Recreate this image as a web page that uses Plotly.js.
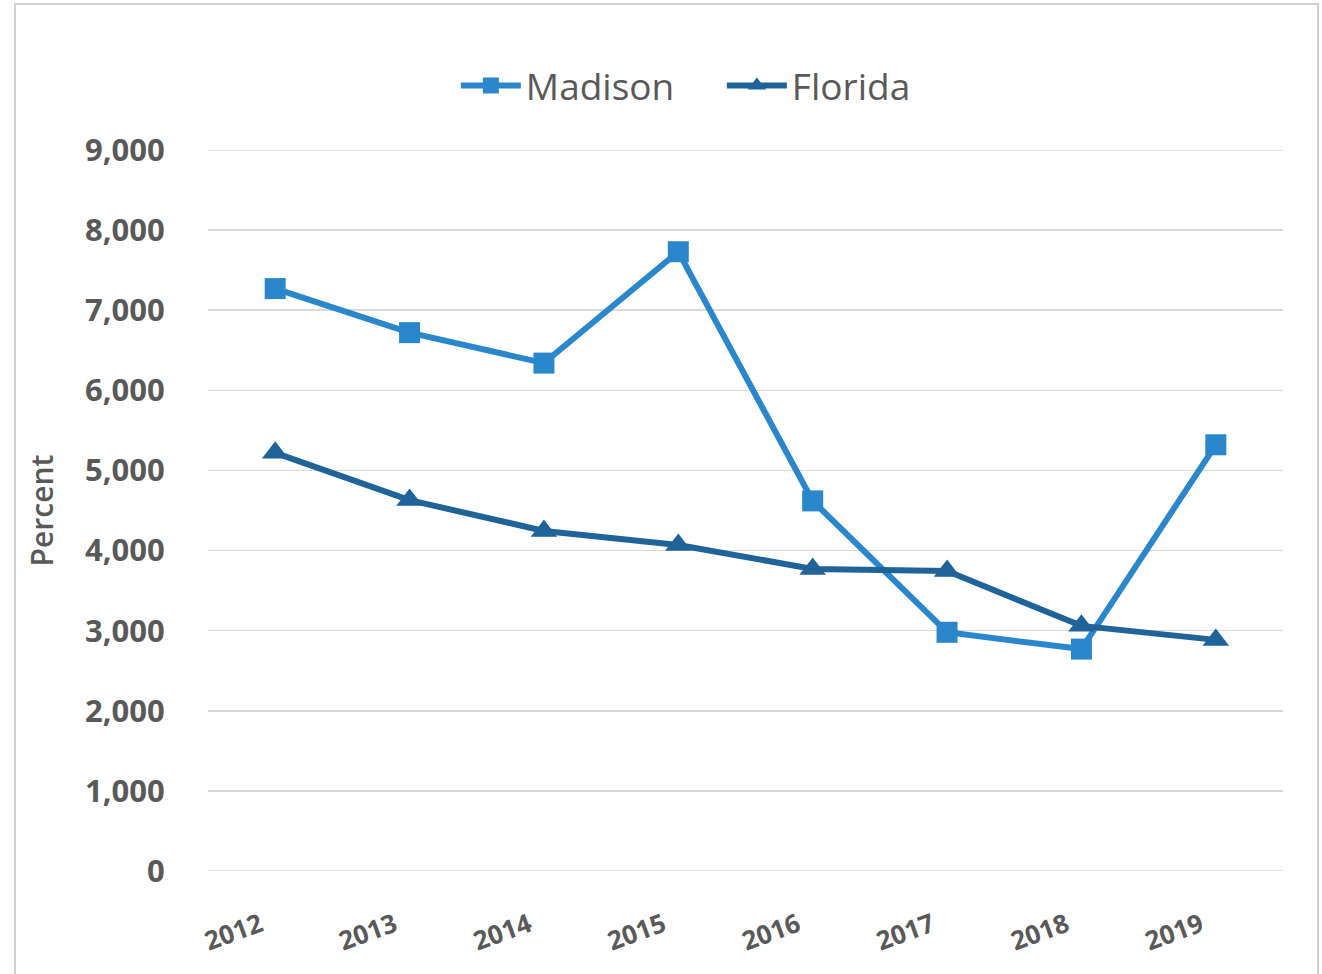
<!DOCTYPE html>
<html>
<head>
<meta charset="utf-8">
<script src="https://cdn.plot.ly/plotly-3.0.1.min.js"></script>
<style>
  html, body { margin: 0; padding: 0; background: #fff; overflow: hidden; }
  #chart { width: 1322px; height: 974px; }
  #frame { position: absolute; left: 14px; top: 3px; width: 1305px; height: 980px;
           border: 2px solid #d0d0d0; pointer-events: none; box-sizing: border-box; }
</style>
</head>
<body>
<div id="chart"></div>
<div id="frame"></div>
<script>
const years = ['2012', '2013', '2014', '2015', '2016', '2017', '2018', '2019'];
const madison = [7270, 6720, 6340, 7730, 4620, 2980, 2770, 5320];
const florida = [5220, 4630, 4245, 4070, 3770, 3745, 3060, 2885];
const yTicks = [0, 1000, 2000, 3000, 4000, 5000, 6000, 7000, 8000, 9000];
const yTickText = ['0', '1,000', '2,000', '3,000', '4,000', '5,000', '6,000', '7,000', '8,000', '9,000'];

const textColor = '#595959';
const fontFam = '"Open Sans", "DejaVu Sans", sans-serif';

const traces = [
  {
    x: years, y: madison, name: 'Madison', type: 'scatter', mode: 'lines+markers',
    line: { color: '#2A87CB', width: 6 },
    marker: { symbol: 'square', size: 21, color: '#2A87CB' }
  },
  {
    x: years, y: florida, name: 'Florida', type: 'scatter', mode: 'lines+markers',
    line: { color: '#1F6398', width: 6 },
    marker: { symbol: 'triangle-up', size: 23, color: '#1F6398' }
  }
];

const gridShapes = [0, 9000].map(v => ({
  type: 'line', xref: 'paper', yref: 'y', x0: 0, x1: 1, y0: v, y1: v,
  line: { color: '#d9d9d9', width: 1.5 }, layer: 'below'
}));

const layout = {
  width: 1322, height: 974,
  margin: { l: 208, r: 39, t: 150, b: 103 },
  paper_bgcolor: '#ffffff', plot_bgcolor: '#ffffff',
  font: { family: fontFam, color: textColor },
  showlegend: true,
  legend: {
    orientation: 'h', x: 0.478, xanchor: 'center', y: 1.089, yanchor: 'middle',
    font: { size: 37, color: textColor, family: fontFam },
    itemwidth: 60, entrywidth: 191, entrywidthmode: 'pixels'
  },
  xaxis: {
    type: 'category', range: [-0.5, 7.5],
    showgrid: false, zeroline: false, showline: false,
    ticks: 'outside', ticklen: 28, tickcolor: 'rgba(0,0,0,0)',
    tickangle: -20, ticklabelshift: -15,
    tickfont: { size: 26, color: textColor, family: fontFam, weight: 700 }
  },
  yaxis: {
    range: [0, 9000], tickvals: yTicks, ticktext: yTickText,
    showgrid: true, gridcolor: '#d9d9d9', gridwidth: 1.5,
    zeroline: false, showline: false,
    ticks: 'outside', ticklen: 36, tickcolor: 'rgba(0,0,0,0)',
    tickfont: { size: 31, color: textColor, family: fontFam, weight: 700 },
    title: { text: 'Percent', font: { size: 30, color: textColor, family: fontFam, weight: 600 }, standoff: 22 }
  },
  shapes: gridShapes
};

Plotly.newPlot('chart', traces, layout, { displayModeBar: false, staticPlot: true });
</script>
</body>
</html>
